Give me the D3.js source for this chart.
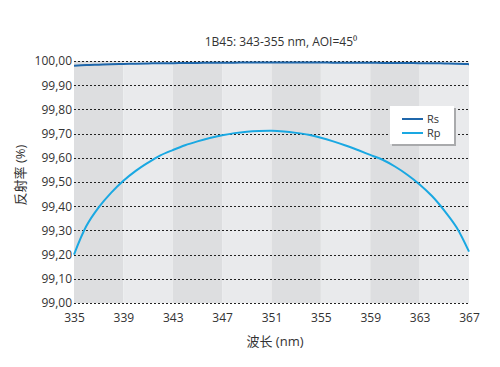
<!DOCTYPE html>
<html><head><meta charset="utf-8">
<script src="https://cdn.jsdelivr.net/npm/d3@7/dist/d3.min.js"></script>
<style>
html,body{margin:0;padding:0;background:#fff;}
svg text{font-family:"Open Sans","Noto Sans CJK SC",sans-serif;fill:#333;}
</style></head>
<body>
<svg id="chart" width="500" height="367"></svg>
<script>
const title = "1B45: 343-355 nm, AOI=45\u2070";
const xLabel = "波长 (nm)";
const yLabel = "反射率 (%)";
const xTicks = [335, 339, 343, 347, 351, 355, 359, 363, 367];
const yTicks = [99.0, 99.1, 99.2, 99.3, 99.4, 99.5, 99.6, 99.7, 99.8, 99.9, 100.0];
const wavelengths = [335,336,337,338,339,340,341,342,343,344,345,346,347,348,349,350,351,352,353,354,355,356,357,358,359,360,361,362,363,364,365,366,367];
const rsValues = [99.980,99.983,99.985,99.987,99.988,99.989,99.990,99.991,99.991,99.992,99.992,99.993,99.993,99.993,99.994,99.994,99.994,99.994,99.994,99.994,99.994,99.993,99.993,99.993,99.993,99.992,99.992,99.992,99.991,99.991,99.990,99.989,99.987];
const rpValues = [99.200,99.318,99.395,99.455,99.505,99.546,99.580,99.610,99.632,99.652,99.668,99.682,99.693,99.702,99.708,99.711,99.712,99.709,99.703,99.695,99.683,99.668,99.651,99.632,99.612,99.592,99.564,99.530,99.490,99.442,99.382,99.312,99.212];
const seriesNames = ["Rs", "Rp"];
const seriesColors = ["#1f67ab", "#1aa8e2"];

const svg = d3.select("#chart");
const m = {left:74, right:31, top:61, bottom:64};
const W = 500, H = 367;
const x = d3.scaleLinear().domain([335, 367]).range([m.left, W - m.right]);
const y = d3.scaleLinear().domain([99.0, 100.0]).range([H - m.bottom, m.top]);

// bands
const bands = d3.pairs(xTicks);
svg.append("g").selectAll("rect").data(bands).join("rect")
  .attr("x", d => x(d[0])).attr("width", d => x(d[1]) - x(d[0]))
  .attr("y", y(100)).attr("height", y(99) - y(100))
  .attr("fill", (d, i) => i % 2 === 0 ? "#dddee0" : "#e9eaec");

// grid lines
svg.append("g").selectAll("line").data(yTicks).join("line")
  .attr("x1", x(335)).attr("x2", x(367))
  .attr("y1", d => Math.round(y(d)) + 0.5).attr("y2", d => Math.round(y(d)) + 0.5)
  .attr("stroke", "#222").attr("stroke-width", 1).attr("stroke-dasharray", "2,2");

// axes (labels only)
const fmt = d => d3.format(".2f")(d).replace(".", ",");
const yAxis = svg.append("g").attr("transform", `translate(${m.left},0)`)
  .call(d3.axisLeft(y).tickValues(yTicks).tickFormat(fmt).tickSize(0).tickPadding(2));
yAxis.select(".domain").remove();
yAxis.selectAll("text").style("font-size", "12px").attr("fill", "#333");

const xAxis = svg.append("g").attr("transform", `translate(0,${H - m.bottom})`)
  .call(d3.axisBottom(x).tickValues(xTicks).tickFormat(d3.format("d")).tickSize(0).tickPadding(10));
xAxis.select(".domain").remove();
xAxis.selectAll("text").style("font-size", "12px").attr("fill", "#333");

// lines
const line = d3.line().x((d, i) => x(wavelengths[i])).y(d => y(d)).curve(d3.curveCatmullRom);
[rsValues, rpValues].forEach((vals, k) => {
  svg.append("path").datum(vals).attr("d", line)
    .attr("fill", "none").attr("stroke", seriesColors[k]).attr("stroke-width", 2);
});

// title & labels
svg.append("text").attr("x", 281).attr("y", 46).attr("text-anchor", "middle")
  .style("font-size", "12px").text(title);
svg.append("text").attr("x", 275).attr("y", 346).attr("text-anchor", "middle")
  .style("font-size", "13px").text(xLabel);
svg.append("text").attr("transform", "translate(25,175) rotate(-90)").attr("text-anchor", "middle")
  .style("font-size", "13px").text(yLabel);

// legend
const lg = svg.append("g").attr("transform", "translate(390,106)");
lg.append("rect").attr("x", 2).attr("y", 2).attr("width", 64).attr("height", 38).attr("fill", "#a9aaac");
lg.append("rect").attr("width", 64).attr("height", 38).attr("fill", "#fff");
seriesNames.forEach((n, i) => {
  lg.append("line").attr("x1", 12).attr("x2", 33).attr("y1", 13 + i * 14).attr("y2", 13 + i * 14)
    .attr("stroke", seriesColors[i]).attr("stroke-width", 2);
  lg.append("text").attr("x", 37).attr("y", 17 + i * 14).style("font-size", "11px").text(n);
});
</script>
</body></html>
